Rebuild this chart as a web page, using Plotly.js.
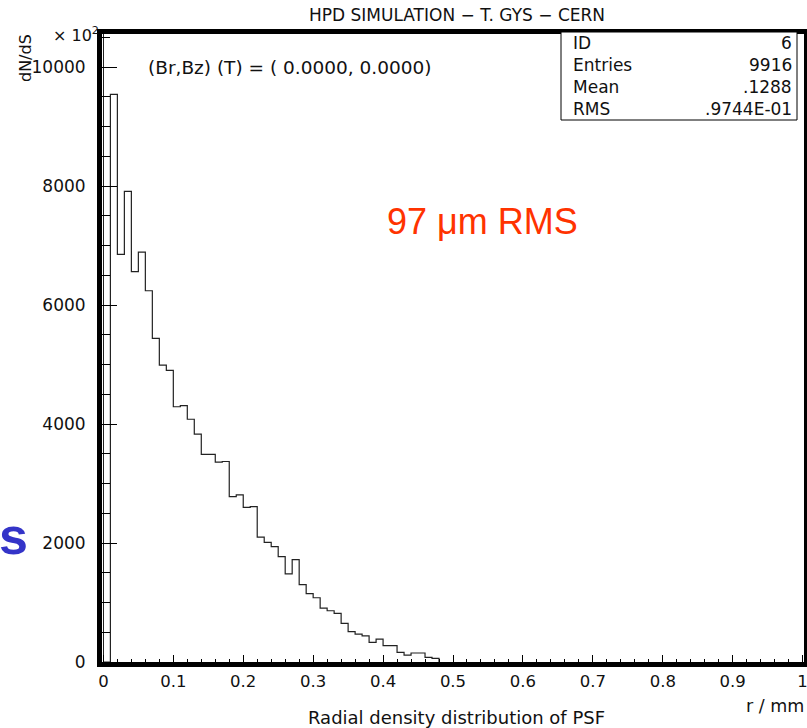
<!DOCTYPE html>
<html>
<head>
<meta charset="utf-8">
<script src="https://cdn.plot.ly/plotly-3.0.1.min.js"></script>
<style>html,body{margin:0;padding:0;background:#fff;}#chart{width:807px;height:728px;}</style>
</head>
<body>
<div id="chart"></div>
<script>
// ---- data ----
const binLeft = [0.00,0.01,0.02,0.03,0.04,0.05,0.06,0.07,0.08,0.09,
                 0.10,0.11,0.12,0.13,0.14,0.15,0.16,0.17,0.18,0.19,
                 0.20,0.21,0.22,0.23,0.24,0.25,0.26,0.27,0.28,0.29,
                 0.30,0.31,0.32,0.33,0.34,0.35,0.36,0.37,0.38,0.39,
                 0.40,0.41,0.42,0.43,0.44,0.45,0.46,0.47];
const binWidth = 0.01;
const counts = [0,9540,6850,7910,6560,6890,6240,5440,4990,4900,
                4290,4310,4080,3830,3490,3490,3360,3370,2780,2810,
                2600,2610,2100,2010,1940,1770,1480,1720,1300,1150,
                1080,906,861,817,650,510,470,440,330,386,
                274,274,162,117,151,151,78,62];
const xTickVals = [0,0.1,0.2,0.3,0.4,0.5,0.6,0.7,0.8,0.9,1];
const xTickText = ["0","0.1","0.2","0.3","0.4","0.5","0.6","0.7","0.8","0.9","1"];
const yTickVals = [0,2000,4000,6000,8000,10000];
const yTickText = ["0","2000","4000","6000","8000","10000"];
const statLabels = ["ID","Entries","Mean","RMS"];
const statValues = ["6","9916",".1288",".9744E-01"];

// ---- layout geometry ----
const W = 807, H = 728;
const M = {l:102, r:3, t:34, b:66};
const pw = W - M.l - M.r, ph = H - M.t - M.b;
const px = x => (x - M.l) / pw;          // pixel -> paper x
const py = y => (H - M.b - y) / ph;      // pixel -> paper y
const FONT = "DejaVu Sans, Liberation Sans, sans-serif";

// step outline of the histogram
const stepX = binLeft.concat([binLeft[binLeft.length-1] + binWidth]);
const stepY = counts.concat([0]);

const trace = {
  type: 'scatter', mode: 'lines',
  x: stepX, y: stepY,
  line: {shape: 'hv', color: '#222', width: 1.2},
  hoverinfo: 'x+y', showlegend: false
};

const annotations = [
  {text: '(Br,Bz) (T) = ( 0.0000, 0.0000)', xref:'paper', yref:'paper', x: px(146), y: py(67),
   xanchor:'left', yanchor:'middle', showarrow:false, font:{family:FONT, size:18.5, color:'#111'}},
  {text: '97 μm RMS', xref:'paper', yref:'paper', x: px(482), y: py(221),
   xanchor:'center', yanchor:'middle', showarrow:false,
   font:{family:'Liberation Sans, Arial, sans-serif', size:36, color:'#ff3300'}},
  {text: '× 10<sup>2</sup>', xref:'paper', yref:'paper', x: px(101), y: py(34),
   xanchor:'right', yanchor:'middle', showarrow:false, font:{family:FONT, size:16, color:'#111'}},
  {text: 'dN/dS', xref:'paper', yref:'paper', x: px(26), y: py(58), textangle:-90,
   xanchor:'center', yanchor:'middle', showarrow:false, font:{family:FONT, size:16, color:'#111'}},
  {text: 'r / mm', xref:'paper', yref:'paper', x: px(806), y: py(706),
   xanchor:'right', yanchor:'middle', showarrow:false, font:{family:FONT, size:17.5, color:'#111'}},
  {text: 'Radial density distribution of PSF', xref:'paper', yref:'paper', x: px(456), y: py(717),
   xanchor:'center', yanchor:'middle', showarrow:false, font:{family:FONT, size:18, color:'#111'}},
  {text: '<b>s</b>', xref:'paper', yref:'paper', x: px(-3), y: py(536),
   xanchor:'left', yanchor:'middle', showarrow:false,
   font:{family:'Liberation Sans, Arial, sans-serif', size:52, color:'#3434c8'}}
];
const statY = [43, 65, 87, 109];
statLabels.forEach((s, i) => {
  annotations.push({text: s, xref:'paper', yref:'paper', x: px(571), y: py(statY[i]),
    xanchor:'left', yanchor:'middle', showarrow:false, font:{family:FONT, size:17, color:'#111'}});
  annotations.push({text: statValues[i], xref:'paper', yref:'paper', x: px(794), y: py(statY[i]),
    xanchor:'right', yanchor:'middle', showarrow:false, font:{family:FONT, size:17, color:'#111'}});
});

const layout = {
  width: W, height: H,
  margin: M,
  paper_bgcolor: '#ffffff', plot_bgcolor: '#ffffff',
  title: {text: 'HPD SIMULATION − T. GYS − CERN', x: px(457), xref:'paper', xanchor:'center',
          y: 1 - 15/H, yref:'container', yanchor:'middle',
          font:{family:FONT, size:17, color:'#111'}},
  xaxis: {
    range: [-0.002, 1.002], showgrid: false,
    zeroline: true, zerolinecolor: '#222', zerolinewidth: 1,
    showline: true, linecolor: '#000', linewidth: 5, mirror: true,
    tickmode: 'array', tickvals: xTickVals, ticktext: xTickText,
    ticks: 'inside', ticklen: 7, tickwidth: 1, tickcolor: '#000',
    minor: {dtick: 0.02, tick0: 0, ticks: 'inside', ticklen: 3, tickwidth: 1, tickcolor: '#000'},
    ticklabelstandoff: 0, ticklabeloverflow: 'allow',
    tickfont: {family: FONT, size: 16.5, color: '#111'}
  },
  yaxis: {
    range: [0, 10555], showgrid: false, zeroline: false,
    showline: true, linecolor: '#000', linewidth: 5, mirror: true,
    tickmode: 'array', tickvals: yTickVals, ticktext: yTickText,
    ticks: 'inside', ticklen: 15, tickwidth: 1, tickcolor: '#000',
    minor: {dtick: 500, tick0: 0, ticks: 'inside', ticklen: 8, tickwidth: 1, tickcolor: '#000'},
    ticklabelstandoff: 8,
    tickfont: {family: FONT, size: 17, color: '#111'}
  },
  shapes: [
    {type:'rect', xref:'paper', yref:'paper', x0: px(561), x1: px(797), y0: py(120), y1: py(32),
     line:{color:'#000', width:1}, fillcolor:'#ffffff', layer:'above'}
  ],
  annotations: annotations
};

Plotly.newPlot('chart', [trace], layout, {displayModeBar: false, staticPlot: true});
</script>
</body>
</html>
